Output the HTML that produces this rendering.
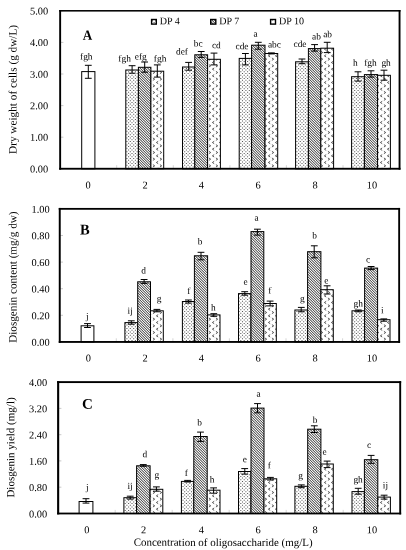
<!DOCTYPE html>
<html><head><meta charset="utf-8"><title>Figure</title>
<style>
html,body{margin:0;padding:0;background:#fff;}
svg{display:block}
text{font-family:"Liberation Serif", serif;fill:#000;}
.t{font-size:10.4px}
.l{font-size:9.4px}
.y{font-size:11.0px}
.b{font-weight:bold}
</style></head><body>
<svg width="406" height="550" viewBox="0 0 406 550">
<defs>
<pattern id="p4" width="17" height="17" patternUnits="userSpaceOnUse"><rect width="17" height="17" fill="#fff"/><path d="M-1.12,-0.12h1.04v1.04h-1.04zM-1.12,3.28h1.04v1.04h-1.04zM-1.12,6.68h1.04v1.04h-1.04zM-1.12,10.08h1.04v1.04h-1.04zM-1.12,13.48h1.04v1.04h-1.04zM-1.12,16.88h1.04v1.04h-1.04zM0.58,1.58h1.04v1.04h-1.04zM2.28,-0.12h1.04v1.04h-1.04zM0.58,4.98h1.04v1.04h-1.04zM2.28,3.28h1.04v1.04h-1.04zM0.58,8.38h1.04v1.04h-1.04zM2.28,6.68h1.04v1.04h-1.04zM0.58,11.78h1.04v1.04h-1.04zM2.28,10.08h1.04v1.04h-1.04zM0.58,15.18h1.04v1.04h-1.04zM2.28,13.48h1.04v1.04h-1.04zM2.28,16.88h1.04v1.04h-1.04zM3.98,1.58h1.04v1.04h-1.04zM5.68,-0.12h1.04v1.04h-1.04zM3.98,4.98h1.04v1.04h-1.04zM5.68,3.28h1.04v1.04h-1.04zM3.98,8.38h1.04v1.04h-1.04zM5.68,6.68h1.04v1.04h-1.04zM3.98,11.78h1.04v1.04h-1.04zM5.68,10.08h1.04v1.04h-1.04zM3.98,15.18h1.04v1.04h-1.04zM5.68,13.48h1.04v1.04h-1.04zM5.68,16.88h1.04v1.04h-1.04zM7.38,1.58h1.04v1.04h-1.04zM9.08,-0.12h1.04v1.04h-1.04zM7.38,4.98h1.04v1.04h-1.04zM9.08,3.28h1.04v1.04h-1.04zM7.38,8.38h1.04v1.04h-1.04zM9.08,6.68h1.04v1.04h-1.04zM7.38,11.78h1.04v1.04h-1.04zM9.08,10.08h1.04v1.04h-1.04zM7.38,15.18h1.04v1.04h-1.04zM9.08,13.48h1.04v1.04h-1.04zM9.08,16.88h1.04v1.04h-1.04zM10.78,1.58h1.04v1.04h-1.04zM12.48,-0.12h1.04v1.04h-1.04zM10.78,4.98h1.04v1.04h-1.04zM12.48,3.28h1.04v1.04h-1.04zM10.78,8.38h1.04v1.04h-1.04zM12.48,6.68h1.04v1.04h-1.04zM10.78,11.78h1.04v1.04h-1.04zM12.48,10.08h1.04v1.04h-1.04zM10.78,15.18h1.04v1.04h-1.04zM12.48,13.48h1.04v1.04h-1.04zM12.48,16.88h1.04v1.04h-1.04zM14.18,1.58h1.04v1.04h-1.04zM15.88,-0.12h1.04v1.04h-1.04zM14.18,4.98h1.04v1.04h-1.04zM15.88,3.28h1.04v1.04h-1.04zM14.18,8.38h1.04v1.04h-1.04zM15.88,6.68h1.04v1.04h-1.04zM14.18,11.78h1.04v1.04h-1.04zM15.88,10.08h1.04v1.04h-1.04zM14.18,15.18h1.04v1.04h-1.04zM15.88,13.48h1.04v1.04h-1.04zM15.88,16.88h1.04v1.04h-1.04z" fill="#555"/></pattern>
<pattern id="p7" width="2.5" height="2.5" patternUnits="userSpaceOnUse"><rect width="2.5" height="2.5" fill="#fff"/><path d="M-1,-1 L3.5,3.5 M-1,1.5 L1,3.5 M1.5,-1 L3.5,1" stroke="#111" stroke-width="0.85"/></pattern>
<pattern id="p10" width="7" height="20" patternUnits="userSpaceOnUse"><rect width="7" height="20" fill="#fff"/><path d="M4.20,-5.37L2.40,-4.17L4.20,-2.97M5.90,-2.04L7.70,-0.84L5.90,0.36M-1.10,-2.04L0.70,-0.84L-1.10,0.36M4.20,1.30L2.40,2.50L4.20,3.70M5.90,4.63L7.70,5.83L5.90,7.03M-1.10,4.63L0.70,5.83L-1.10,7.03M4.20,7.97L2.40,9.17L4.20,10.37M5.90,11.30L7.70,12.50L5.90,13.70M-1.10,11.30L0.70,12.50L-1.10,13.70M4.20,14.63L2.40,15.83L4.20,17.03M5.90,17.96L7.70,19.16L5.90,20.36M-1.10,17.96L0.70,19.16L-1.10,20.36M4.20,21.30L2.40,22.50L4.20,23.70M5.90,24.63L7.70,25.83L5.90,27.03M-1.10,24.63L0.70,25.83L-1.10,27.03" fill="none" stroke="#3a3a3a" stroke-width="0.85" stroke-linejoin="round"/></pattern>
<linearGradient id="g7" gradientUnits="userSpaceOnUse" x1="364.700" y1="101.500" x2="365.975" y2="100.225" spreadMethod="repeat"><stop offset="0.0000" stop-color="rgb(84,84,84)"/><stop offset="0.0625" stop-color="rgb(91,91,91)"/><stop offset="0.1250" stop-color="rgb(109,109,109)"/><stop offset="0.1875" stop-color="rgb(137,137,137)"/><stop offset="0.2500" stop-color="rgb(170,170,170)"/><stop offset="0.3125" stop-color="rgb(202,202,202)"/><stop offset="0.3750" stop-color="rgb(230,230,230)"/><stop offset="0.4375" stop-color="rgb(248,248,248)"/><stop offset="0.5000" stop-color="rgb(255,255,255)"/><stop offset="0.5625" stop-color="rgb(248,248,248)"/><stop offset="0.6250" stop-color="rgb(230,230,230)"/><stop offset="0.6875" stop-color="rgb(202,202,202)"/><stop offset="0.7500" stop-color="rgb(170,170,170)"/><stop offset="0.8125" stop-color="rgb(137,137,137)"/><stop offset="0.8750" stop-color="rgb(109,109,109)"/><stop offset="0.9375" stop-color="rgb(91,91,91)"/><stop offset="1.0000" stop-color="rgb(84,84,84)"/></linearGradient>
</defs>
<rect width="406" height="550" fill="#fff"/>

<g id="panelA">
<line x1="60.1" y1="168.8" x2="63.4" y2="168.8" stroke="#bbb" stroke-width="0.8"/>
<text class="t" transform="translate(48.20,172.45) rotate(0.05)" text-anchor="end">0.00</text>
<line x1="60.1" y1="137.2" x2="63.4" y2="137.2" stroke="#bbb" stroke-width="0.8"/>
<text class="t" transform="translate(48.20,140.86) rotate(0.05)" text-anchor="end">1.00</text>
<line x1="60.1" y1="105.6" x2="63.4" y2="105.6" stroke="#bbb" stroke-width="0.8"/>
<text class="t" transform="translate(48.20,109.27) rotate(0.05)" text-anchor="end">2.00</text>
<line x1="60.1" y1="74.0" x2="63.4" y2="74.0" stroke="#bbb" stroke-width="0.8"/>
<text class="t" transform="translate(48.20,77.68) rotate(0.05)" text-anchor="end">3.00</text>
<line x1="60.1" y1="42.4" x2="63.4" y2="42.4" stroke="#bbb" stroke-width="0.8"/>
<text class="t" transform="translate(48.20,46.09) rotate(0.05)" text-anchor="end">4.00</text>
<line x1="60.1" y1="10.8" x2="63.4" y2="10.8" stroke="#bbb" stroke-width="0.8"/>
<text class="t" transform="translate(48.20,14.50) rotate(0.05)" text-anchor="end">5.00</text>
<rect x="81.7" y="71.6" width="13.2" height="97.2" fill="#fff" stroke="#000" stroke-width="1"/>
<path d="M88.3,65.3 V78.3 M84.9,65.3 h6.8 M84.9,78.3 h6.8" stroke="#000" stroke-width="1" fill="none"/>
<text class="l" transform="translate(86.3,59.4) rotate(0.05)" text-anchor="middle">fgh</text>
<rect x="125.8" y="70.0" width="12.6" height="98.8" fill="url(#p4)" stroke="#000" stroke-width="1"/>
<path d="M132.1,65.7 V73.2 M128.7,65.7 h6.8 M128.7,73.2 h6.8" stroke="#000" stroke-width="1" fill="none"/>
<text class="l" transform="translate(124.6,61.4) rotate(0.05)" text-anchor="middle">fgh</text>
<rect x="138.4" y="67.3" width="12.5" height="101.5" fill="url(#g7)" stroke="#000" stroke-width="1"/>
<path d="M144.7,62.0 V72.2 M141.2,62.0 h6.8 M141.2,72.2 h6.8" stroke="#000" stroke-width="1" fill="none"/>
<text class="l" transform="translate(140.7,59.4) rotate(0.05)" text-anchor="middle">efg</text>
<rect x="150.9" y="71.2" width="12.8" height="97.5" fill="url(#p10)" stroke="#000" stroke-width="1"/>
<path d="M157.3,64.9 V77.1 M153.9,64.9 h6.8 M153.9,77.1 h6.8" stroke="#000" stroke-width="1" fill="none"/>
<text class="l" transform="translate(160.1,61.4) rotate(0.05)" text-anchor="middle">fgh</text>
<rect x="182.5" y="67.0" width="12.3" height="101.8" fill="url(#p4)" stroke="#000" stroke-width="1"/>
<path d="M188.7,62.4 V70.2 M185.2,62.4 h6.8 M185.2,70.2 h6.8" stroke="#000" stroke-width="1" fill="none"/>
<text class="l" transform="translate(182.0,54.5) rotate(0.05)" text-anchor="middle">def</text>
<rect x="194.8" y="54.8" width="12.8" height="114.0" fill="url(#g7)" stroke="#000" stroke-width="1"/>
<path d="M201.2,51.5 V57.4 M197.8,51.5 h6.8 M197.8,57.4 h6.8" stroke="#000" stroke-width="1" fill="none"/>
<text class="l" transform="translate(198.2,46.6) rotate(0.05)" text-anchor="middle">bc</text>
<rect x="207.6" y="59.3" width="12.8" height="109.5" fill="url(#p10)" stroke="#000" stroke-width="1"/>
<path d="M214.0,53.1 V64.9 M210.6,53.1 h6.8 M210.6,64.9 h6.8" stroke="#000" stroke-width="1" fill="none"/>
<text class="l" transform="translate(216.3,48.2) rotate(0.05)" text-anchor="middle">cd</text>
<rect x="239.2" y="58.4" width="12.4" height="110.3" fill="url(#p4)" stroke="#000" stroke-width="1"/>
<path d="M245.4,53.5 V64.9 M242.0,53.5 h6.8 M242.0,64.9 h6.8" stroke="#000" stroke-width="1" fill="none"/>
<text class="l" transform="translate(242.0,49.2) rotate(0.05)" text-anchor="middle">cde</text>
<rect x="251.6" y="45.2" width="13.4" height="123.5" fill="url(#g7)" stroke="#000" stroke-width="1"/>
<path d="M258.3,42.3 V49.2 M254.9,42.3 h6.8 M254.9,49.2 h6.8" stroke="#000" stroke-width="1" fill="none"/>
<text class="l" transform="translate(255.7,36.7) rotate(0.05)" text-anchor="middle">a</text>
<rect x="265.0" y="53.5" width="12.7" height="115.2" fill="url(#p10)" stroke="#000" stroke-width="1"/>
<path d="M271.4,52.9 V53.9 M268.0,52.9 h6.8 M268.0,53.9 h6.8" stroke="#000" stroke-width="1" fill="none"/>
<text class="l" transform="translate(274.4,47.6) rotate(0.05)" text-anchor="middle">abc</text>
<rect x="295.6" y="61.8" width="12.8" height="107.0" fill="url(#p4)" stroke="#000" stroke-width="1"/>
<path d="M302.0,59.0 V63.7 M298.6,59.0 h6.8 M298.6,63.7 h6.8" stroke="#000" stroke-width="1" fill="none"/>
<text class="l" transform="translate(300.0,47.0) rotate(0.05)" text-anchor="middle">cde</text>
<rect x="308.4" y="48.6" width="12.4" height="120.2" fill="url(#g7)" stroke="#000" stroke-width="1"/>
<path d="M314.6,44.6 V51.1 M311.2,44.6 h6.8 M311.2,51.1 h6.8" stroke="#000" stroke-width="1" fill="none"/>
<text class="l" transform="translate(316.4,39.6) rotate(0.05)" text-anchor="middle">ab</text>
<rect x="320.8" y="48.2" width="12.8" height="120.5" fill="url(#p10)" stroke="#000" stroke-width="1"/>
<path d="M327.2,42.3 V52.6 M323.8,42.3 h6.8 M323.8,52.6 h6.8" stroke="#000" stroke-width="1" fill="none"/>
<text class="l" transform="translate(327.6,37.2) rotate(0.05)" text-anchor="middle">ab</text>
<rect x="351.6" y="76.7" width="12.8" height="92.0" fill="url(#p4)" stroke="#000" stroke-width="1"/>
<path d="M358.0,71.8 V81.1 M354.6,71.8 h6.8 M354.6,81.1 h6.8" stroke="#000" stroke-width="1" fill="none"/>
<text class="l" transform="translate(355.4,65.7) rotate(0.05)" text-anchor="middle">h</text>
<rect x="364.4" y="74.6" width="13.2" height="94.2" fill="url(#g7)" stroke="#000" stroke-width="1"/>
<path d="M371.0,70.8 V77.1 M367.6,70.8 h6.8 M367.6,77.1 h6.8" stroke="#000" stroke-width="1" fill="none"/>
<text class="l" transform="translate(370.5,65.7) rotate(0.05)" text-anchor="middle">fgh</text>
<rect x="377.6" y="75.3" width="12.8" height="93.5" fill="url(#p10)" stroke="#000" stroke-width="1"/>
<path d="M384.0,70.2 V80.2 M380.6,70.2 h6.8 M380.6,80.2 h6.8" stroke="#000" stroke-width="1" fill="none"/>
<text class="l" transform="translate(386.1,65.7) rotate(0.05)" text-anchor="middle">gh</text>
<text class="t" transform="translate(88.0,188.40) rotate(0.05)" text-anchor="middle">0</text>
<text class="t" transform="translate(145.1,188.40) rotate(0.05)" text-anchor="middle">2</text>
<text class="t" transform="translate(201.4,188.40) rotate(0.05)" text-anchor="middle">4</text>
<text class="t" transform="translate(258.0,188.40) rotate(0.05)" text-anchor="middle">6</text>
<text class="t" transform="translate(315.0,188.40) rotate(0.05)" text-anchor="middle">8</text>
<text class="t" transform="translate(372.0,188.40) rotate(0.05)" text-anchor="middle">10</text>
<line x1="116.7" y1="168.8" x2="116.7" y2="165.2" stroke="#ccc" stroke-width="0.8"/>
<line x1="173.3" y1="168.8" x2="173.3" y2="165.2" stroke="#ccc" stroke-width="0.8"/>
<line x1="229.9" y1="168.8" x2="229.9" y2="165.2" stroke="#ccc" stroke-width="0.8"/>
<line x1="286.4" y1="168.8" x2="286.4" y2="165.2" stroke="#ccc" stroke-width="0.8"/>
<line x1="343.0" y1="168.8" x2="343.0" y2="165.2" stroke="#ccc" stroke-width="0.8"/>
<rect x="59.20" y="10.03" width="341.30" height="1.55" fill="#000"/>
<rect x="59.20" y="167.82" width="341.30" height="1.85" fill="#000"/>
<rect x="59.20" y="10.03" width="1.90" height="159.65" fill="#000"/>
<rect x="398.60" y="10.03" width="1.90" height="159.65" fill="#000"/>
<text class="b" style="font-size:13.1px" transform="translate(87.6,39.7) rotate(0.05) scale(1,1.08)" text-anchor="middle">A</text>
<text style="font-size:11.25px" transform="translate(16.5,89.45) rotate(-90.05)" text-anchor="middle">Dry weight of cells (g dw/L)</text>
</g>
<g id="panelB">
<line x1="59.8" y1="341.9" x2="63.0" y2="341.9" stroke="#bbb" stroke-width="0.8"/>
<text class="t" transform="translate(49.75,345.85) rotate(0.05)" text-anchor="end">0.00</text>
<line x1="59.8" y1="315.3" x2="63.0" y2="315.3" stroke="#bbb" stroke-width="0.8"/>
<text class="t" transform="translate(49.75,319.23) rotate(0.05)" text-anchor="end">0.20</text>
<line x1="59.8" y1="288.7" x2="63.0" y2="288.7" stroke="#bbb" stroke-width="0.8"/>
<text class="t" transform="translate(49.75,292.61) rotate(0.05)" text-anchor="end">0.40</text>
<line x1="59.8" y1="262.1" x2="63.0" y2="262.1" stroke="#bbb" stroke-width="0.8"/>
<text class="t" transform="translate(49.75,265.99) rotate(0.05)" text-anchor="end">0.60</text>
<line x1="59.8" y1="235.5" x2="63.0" y2="235.5" stroke="#bbb" stroke-width="0.8"/>
<text class="t" transform="translate(49.75,239.37) rotate(0.05)" text-anchor="end">0.80</text>
<line x1="59.8" y1="208.8" x2="63.0" y2="208.8" stroke="#bbb" stroke-width="0.8"/>
<text class="t" transform="translate(49.75,212.75) rotate(0.05)" text-anchor="end">1.00</text>
<rect x="81.1" y="325.8" width="12.8" height="16.1" fill="#fff" stroke="#000" stroke-width="1"/>
<path d="M87.5,323.6 V327.5 M84.1,323.6 h6.8 M84.1,327.5 h6.8" stroke="#000" stroke-width="1" fill="none"/>
<text class="l" transform="translate(87.2,319.3) rotate(0.05)" text-anchor="middle">j</text>
<rect x="124.9" y="322.6" width="12.8" height="19.3" fill="url(#p4)" stroke="#000" stroke-width="1"/>
<path d="M131.3,320.8 V324.2 M127.9,320.8 h6.8 M127.9,324.2 h6.8" stroke="#000" stroke-width="1" fill="none"/>
<text class="l" transform="translate(130.2,313.7) rotate(0.05)" text-anchor="middle">ij</text>
<rect x="137.7" y="281.8" width="12.8" height="60.1" fill="url(#g7)" stroke="#000" stroke-width="1"/>
<path d="M144.1,279.5 V283.4 M140.7,279.5 h6.8 M140.7,283.4 h6.8" stroke="#000" stroke-width="1" fill="none"/>
<text class="l" transform="translate(143.7,273.4) rotate(0.05)" text-anchor="middle">d</text>
<rect x="150.5" y="310.8" width="12.8" height="31.1" fill="url(#p10)" stroke="#000" stroke-width="1"/>
<path d="M156.9,309.4 V311.8 M153.5,309.4 h6.8 M153.5,311.8 h6.8" stroke="#000" stroke-width="1" fill="none"/>
<text class="l" transform="translate(159.0,301.5) rotate(0.05)" text-anchor="middle">g</text>
<rect x="182.4" y="301.5" width="12.0" height="40.4" fill="url(#p4)" stroke="#000" stroke-width="1"/>
<path d="M188.4,300.0 V303.1 M185.0,300.0 h6.8 M185.0,303.1 h6.8" stroke="#000" stroke-width="1" fill="none"/>
<text class="l" transform="translate(188.9,294.0) rotate(0.05)" text-anchor="middle">f</text>
<rect x="194.4" y="255.8" width="13.2" height="86.1" fill="url(#g7)" stroke="#000" stroke-width="1"/>
<path d="M201.0,252.3 V259.8 M197.6,252.3 h6.8 M197.6,259.8 h6.8" stroke="#000" stroke-width="1" fill="none"/>
<text class="l" transform="translate(200.2,244.4) rotate(0.05)" text-anchor="middle">b</text>
<rect x="207.6" y="314.9" width="12.4" height="27.1" fill="url(#p10)" stroke="#000" stroke-width="1"/>
<path d="M213.8,313.7 V316.3 M210.4,313.7 h6.8 M210.4,316.3 h6.8" stroke="#000" stroke-width="1" fill="none"/>
<text class="l" transform="translate(213.3,310.4) rotate(0.05)" text-anchor="middle">h</text>
<rect x="238.5" y="293.6" width="12.5" height="48.3" fill="url(#p4)" stroke="#000" stroke-width="1"/>
<path d="M244.8,291.7 V295.2 M241.3,291.7 h6.8 M241.3,295.2 h6.8" stroke="#000" stroke-width="1" fill="none"/>
<text class="l" transform="translate(245.7,284.8) rotate(0.05)" text-anchor="middle">e</text>
<rect x="251.0" y="231.6" width="12.8" height="110.3" fill="url(#g7)" stroke="#000" stroke-width="1"/>
<path d="M257.4,229.2 V235.1 M254.0,229.2 h6.8 M254.0,235.1 h6.8" stroke="#000" stroke-width="1" fill="none"/>
<text class="l" transform="translate(256.5,220.8) rotate(0.05)" text-anchor="middle">a</text>
<rect x="263.8" y="303.5" width="12.5" height="38.4" fill="url(#p10)" stroke="#000" stroke-width="1"/>
<path d="M270.1,301.1 V305.9 M266.7,301.1 h6.8 M266.7,305.9 h6.8" stroke="#000" stroke-width="1" fill="none"/>
<text class="l" transform="translate(269.8,293.6) rotate(0.05)" text-anchor="middle">f</text>
<rect x="294.9" y="310.0" width="12.7" height="31.9" fill="url(#p4)" stroke="#000" stroke-width="1"/>
<path d="M301.2,307.4 V311.8 M297.9,307.4 h6.8 M297.9,311.8 h6.8" stroke="#000" stroke-width="1" fill="none"/>
<text class="l" transform="translate(302.3,301.5) rotate(0.05)" text-anchor="middle">g</text>
<rect x="307.6" y="251.7" width="13.3" height="90.2" fill="url(#g7)" stroke="#000" stroke-width="1"/>
<path d="M314.2,245.8 V257.8 M310.9,245.8 h6.8 M310.9,257.8 h6.8" stroke="#000" stroke-width="1" fill="none"/>
<text class="l" transform="translate(314.5,238.5) rotate(0.05)" text-anchor="middle">b</text>
<rect x="320.9" y="289.7" width="12.4" height="52.2" fill="url(#p10)" stroke="#000" stroke-width="1"/>
<path d="M327.1,285.8 V294.0 M323.7,285.8 h6.8 M323.7,294.0 h6.8" stroke="#000" stroke-width="1" fill="none"/>
<text class="l" transform="translate(326.3,283.4) rotate(0.05)" text-anchor="middle">e</text>
<rect x="352.0" y="310.8" width="12.6" height="31.1" fill="url(#p4)" stroke="#000" stroke-width="1"/>
<path d="M358.3,310.0 V311.8 M354.9,310.0 h6.8 M354.9,311.8 h6.8" stroke="#000" stroke-width="1" fill="none"/>
<text class="l" transform="translate(358.2,306.5) rotate(0.05)" text-anchor="middle">gh</text>
<rect x="364.6" y="268.1" width="13.0" height="73.8" fill="url(#g7)" stroke="#000" stroke-width="1"/>
<path d="M371.1,266.5 V269.6 M367.7,266.5 h6.8 M367.7,269.6 h6.8" stroke="#000" stroke-width="1" fill="none"/>
<text class="l" transform="translate(368.1,262.5) rotate(0.05)" text-anchor="middle">c</text>
<rect x="377.6" y="319.7" width="12.4" height="22.2" fill="url(#p10)" stroke="#000" stroke-width="1"/>
<path d="M383.8,318.9 V321.2 M380.4,318.9 h6.8 M380.4,321.2 h6.8" stroke="#000" stroke-width="1" fill="none"/>
<text class="l" transform="translate(382.2,313.3) rotate(0.05)" text-anchor="middle">i</text>
<text class="t" transform="translate(88.3,361.60) rotate(0.05)" text-anchor="middle">0</text>
<text class="t" transform="translate(145.1,361.60) rotate(0.05)" text-anchor="middle">2</text>
<text class="t" transform="translate(201.4,361.60) rotate(0.05)" text-anchor="middle">4</text>
<text class="t" transform="translate(258.0,361.60) rotate(0.05)" text-anchor="middle">6</text>
<text class="t" transform="translate(315.0,361.60) rotate(0.05)" text-anchor="middle">8</text>
<text class="t" transform="translate(372.0,361.60) rotate(0.05)" text-anchor="middle">10</text>
<line x1="116.3" y1="341.9" x2="116.3" y2="338.3" stroke="#ccc" stroke-width="0.8"/>
<line x1="172.9" y1="341.9" x2="172.9" y2="338.3" stroke="#ccc" stroke-width="0.8"/>
<line x1="229.4" y1="341.9" x2="229.4" y2="338.3" stroke="#ccc" stroke-width="0.8"/>
<line x1="286.0" y1="341.9" x2="286.0" y2="338.3" stroke="#ccc" stroke-width="0.8"/>
<line x1="342.6" y1="341.9" x2="342.6" y2="338.3" stroke="#ccc" stroke-width="0.8"/>
<rect x="58.77" y="207.95" width="341.30" height="1.80" fill="#000"/>
<rect x="58.77" y="341.02" width="341.30" height="1.85" fill="#000"/>
<rect x="58.77" y="207.95" width="1.95" height="134.93" fill="#000"/>
<rect x="398.22" y="207.95" width="1.85" height="134.93" fill="#000"/>
<text class="b" style="font-size:14.5px" transform="translate(84.9,234.4) rotate(0.05) scale(1,1.04)" text-anchor="middle">B</text>
<text style="font-size:11.2px" transform="translate(16.5,277.15) rotate(-90.05)" text-anchor="middle">Diosgenin content (mg/g dw)</text>
</g>
<g id="panelC">
<line x1="58.1" y1="513.5" x2="61.4" y2="513.5" stroke="#bbb" stroke-width="0.8"/>
<text class="t" transform="translate(47.25,517.40) rotate(0.05)" text-anchor="end">0.00</text>
<line x1="58.1" y1="487.2" x2="61.4" y2="487.2" stroke="#bbb" stroke-width="0.8"/>
<text class="t" transform="translate(47.25,491.12) rotate(0.05)" text-anchor="end">0.80</text>
<line x1="58.1" y1="460.9" x2="61.4" y2="460.9" stroke="#bbb" stroke-width="0.8"/>
<text class="t" transform="translate(47.25,464.84) rotate(0.05)" text-anchor="end">1.60</text>
<line x1="58.1" y1="434.7" x2="61.4" y2="434.7" stroke="#bbb" stroke-width="0.8"/>
<text class="t" transform="translate(47.25,438.56) rotate(0.05)" text-anchor="end">2.40</text>
<line x1="58.1" y1="408.4" x2="61.4" y2="408.4" stroke="#bbb" stroke-width="0.8"/>
<text class="t" transform="translate(47.25,412.28) rotate(0.05)" text-anchor="end">3.20</text>
<line x1="58.1" y1="382.1" x2="61.4" y2="382.1" stroke="#bbb" stroke-width="0.8"/>
<text class="t" transform="translate(47.25,386.00) rotate(0.05)" text-anchor="end">4.00</text>
<rect x="79.1" y="501.5" width="13.8" height="12.0" fill="#fff" stroke="#000" stroke-width="1"/>
<path d="M86.0,498.7 V503.1 M82.6,498.7 h6.8 M82.6,503.1 h6.8" stroke="#000" stroke-width="1" fill="none"/>
<text class="l" transform="translate(87.4,490.2) rotate(0.05)" text-anchor="middle">j</text>
<rect x="123.9" y="497.7" width="12.7" height="15.8" fill="url(#p4)" stroke="#000" stroke-width="1"/>
<path d="M130.2,496.2 V499.1 M126.8,496.2 h6.8 M126.8,499.1 h6.8" stroke="#000" stroke-width="1" fill="none"/>
<text class="l" transform="translate(130.1,488.9) rotate(0.05)" text-anchor="middle">ij</text>
<rect x="136.6" y="465.8" width="13.5" height="47.7" fill="url(#g7)" stroke="#000" stroke-width="1"/>
<path d="M143.3,464.6 V466.2 M139.9,464.6 h6.8 M139.9,466.2 h6.8" stroke="#000" stroke-width="1" fill="none"/>
<text class="l" transform="translate(144.8,457.3) rotate(0.05)" text-anchor="middle">d</text>
<rect x="150.1" y="489.3" width="12.7" height="24.2" fill="url(#p10)" stroke="#000" stroke-width="1"/>
<path d="M156.4,486.9 V491.2 M153.0,486.9 h6.8 M153.0,491.2 h6.8" stroke="#000" stroke-width="1" fill="none"/>
<text class="l" transform="translate(156.8,477.8) rotate(0.05)" text-anchor="middle">g</text>
<rect x="181.4" y="481.4" width="12.4" height="32.1" fill="url(#p4)" stroke="#000" stroke-width="1"/>
<path d="M187.6,480.4 V482.0 M184.2,480.4 h6.8 M184.2,482.0 h6.8" stroke="#000" stroke-width="1" fill="none"/>
<text class="l" transform="translate(186.3,476.1) rotate(0.05)" text-anchor="middle">f</text>
<rect x="193.8" y="436.5" width="13.4" height="77.0" fill="url(#g7)" stroke="#000" stroke-width="1"/>
<path d="M200.5,432.1 V441.4 M197.1,432.1 h6.8 M197.1,441.4 h6.8" stroke="#000" stroke-width="1" fill="none"/>
<text class="l" transform="translate(199.7,425.6) rotate(0.05)" text-anchor="middle">b</text>
<rect x="207.2" y="490.2" width="12.8" height="23.3" fill="url(#p10)" stroke="#000" stroke-width="1"/>
<path d="M213.6,487.9 V493.2 M210.2,487.9 h6.8 M210.2,493.2 h6.8" stroke="#000" stroke-width="1" fill="none"/>
<text class="l" transform="translate(212.2,482.4) rotate(0.05)" text-anchor="middle">h</text>
<rect x="238.5" y="471.5" width="12.5" height="42.0" fill="url(#p4)" stroke="#000" stroke-width="1"/>
<path d="M244.8,468.6 V474.1 M241.3,468.6 h6.8 M241.3,474.1 h6.8" stroke="#000" stroke-width="1" fill="none"/>
<text class="l" transform="translate(244.8,462.3) rotate(0.05)" text-anchor="middle">e</text>
<rect x="251.0" y="408.1" width="13.0" height="105.4" fill="url(#g7)" stroke="#000" stroke-width="1"/>
<path d="M257.5,403.6 V412.8 M254.1,403.6 h6.8 M254.1,412.8 h6.8" stroke="#000" stroke-width="1" fill="none"/>
<text class="l" transform="translate(258.7,396.7) rotate(0.05)" text-anchor="middle">a</text>
<rect x="264.0" y="478.8" width="12.7" height="34.7" fill="url(#p10)" stroke="#000" stroke-width="1"/>
<path d="M270.4,477.4 V480.0 M267.0,477.4 h6.8 M267.0,480.0 h6.8" stroke="#000" stroke-width="1" fill="none"/>
<text class="l" transform="translate(269.4,468.2) rotate(0.05)" text-anchor="middle">f</text>
<rect x="294.9" y="486.3" width="12.8" height="27.2" fill="url(#p4)" stroke="#000" stroke-width="1"/>
<path d="M301.3,484.9 V487.7 M297.9,484.9 h6.8 M297.9,487.7 h6.8" stroke="#000" stroke-width="1" fill="none"/>
<text class="l" transform="translate(300.6,478.4) rotate(0.05)" text-anchor="middle">g</text>
<rect x="307.7" y="429.2" width="13.2" height="84.3" fill="url(#g7)" stroke="#000" stroke-width="1"/>
<path d="M314.3,425.8 V432.5 M310.9,425.8 h6.8 M310.9,432.5 h6.8" stroke="#000" stroke-width="1" fill="none"/>
<text class="l" transform="translate(315.1,422.9) rotate(0.05)" text-anchor="middle">b</text>
<rect x="320.9" y="464.0" width="12.4" height="49.5" fill="url(#p10)" stroke="#000" stroke-width="1"/>
<path d="M327.1,461.1 V467.6 M323.7,461.1 h6.8 M323.7,467.6 h6.8" stroke="#000" stroke-width="1" fill="none"/>
<text class="l" transform="translate(324.5,454.8) rotate(0.05)" text-anchor="middle">e</text>
<rect x="352.0" y="491.6" width="12.4" height="21.9" fill="url(#p4)" stroke="#000" stroke-width="1"/>
<path d="M358.2,488.3 V494.2 M354.8,488.3 h6.8 M354.8,494.2 h6.8" stroke="#000" stroke-width="1" fill="none"/>
<text class="l" transform="translate(358.1,482.4) rotate(0.05)" text-anchor="middle">gh</text>
<rect x="364.4" y="459.7" width="13.4" height="53.8" fill="url(#g7)" stroke="#000" stroke-width="1"/>
<path d="M371.1,455.4 V463.3 M367.7,455.4 h6.8 M367.7,463.3 h6.8" stroke="#000" stroke-width="1" fill="none"/>
<text class="l" transform="translate(369.0,447.9) rotate(0.05)" text-anchor="middle">c</text>
<rect x="377.8" y="497.1" width="12.6" height="16.4" fill="url(#p10)" stroke="#000" stroke-width="1"/>
<path d="M384.1,495.2 V499.1 M380.7,495.2 h6.8 M380.7,499.1 h6.8" stroke="#000" stroke-width="1" fill="none"/>
<text class="l" transform="translate(385.4,488.3) rotate(0.05)" text-anchor="middle">ij</text>
<text class="t" transform="translate(86.9,533.20) rotate(0.05)" text-anchor="middle">0</text>
<text class="t" transform="translate(143.5,533.20) rotate(0.05)" text-anchor="middle">2</text>
<text class="t" transform="translate(201.4,533.20) rotate(0.05)" text-anchor="middle">4</text>
<text class="t" transform="translate(258.0,533.20) rotate(0.05)" text-anchor="middle">6</text>
<text class="t" transform="translate(315.0,533.20) rotate(0.05)" text-anchor="middle">8</text>
<text class="t" transform="translate(372.0,533.20) rotate(0.05)" text-anchor="middle">10</text>
<line x1="115.2" y1="513.5" x2="115.2" y2="509.9" stroke="#ccc" stroke-width="0.8"/>
<line x1="172.2" y1="513.5" x2="172.2" y2="509.9" stroke="#ccc" stroke-width="0.8"/>
<line x1="229.2" y1="513.5" x2="229.2" y2="509.9" stroke="#ccc" stroke-width="0.8"/>
<line x1="286.2" y1="513.5" x2="286.2" y2="509.9" stroke="#ccc" stroke-width="0.8"/>
<line x1="343.2" y1="513.5" x2="343.2" y2="509.9" stroke="#ccc" stroke-width="0.8"/>
<rect x="57.10" y="381.15" width="344.05" height="1.90" fill="#000"/>
<rect x="57.10" y="512.60" width="344.05" height="1.80" fill="#000"/>
<rect x="57.10" y="381.15" width="2.10" height="133.25" fill="#000"/>
<rect x="399.25" y="381.15" width="1.90" height="133.25" fill="#000"/>
<text class="b" style="font-size:15.0px" transform="translate(87.4,408.7) rotate(0.05) scale(1,0.98)" text-anchor="middle">C</text>
<text style="font-size:11.0px" transform="translate(14.3,447.50) rotate(-90.05)" text-anchor="middle">Diosgenin yield (mg/l)</text>
</g>
<rect x="151.60" y="19.50" width="4.70" height="4.60" fill="url(#p4)" stroke="#000" stroke-width="1.4"/>
<text style="font-size:10.05px" transform="translate(159.7,24.2) rotate(0.05)">DP 4</text>
<rect x="210.70" y="19.50" width="5.10" height="4.60" fill="url(#g7)" stroke="#000" stroke-width="1.4"/>
<text style="font-size:10.05px" transform="translate(219.3,24.2) rotate(0.05)">DP 7</text>
<rect x="270.60" y="19.50" width="4.90" height="4.60" fill="url(#p10)" stroke="#000" stroke-width="1.4"/>
<text style="font-size:10.05px" transform="translate(279.0,24.2) rotate(0.05)">DP 10</text>
<text style="font-size:10.95px" transform="translate(223.1,545.9) rotate(0.03)" text-anchor="middle">Concentration of oligosaccharide (mg/L)</text>
</svg></body></html>
